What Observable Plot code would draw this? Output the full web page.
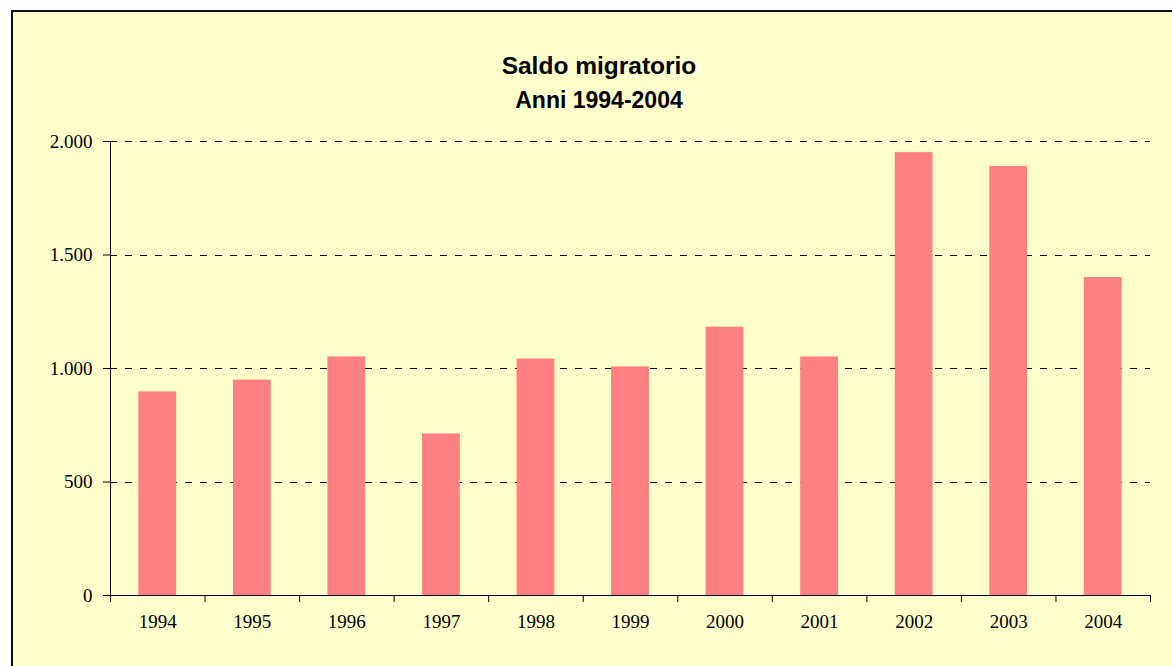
<!DOCTYPE html>
<html>
<head>
<meta charset="utf-8">
<script src="https://cdn.jsdelivr.net/npm/d3@7"></script>
<script src="https://cdn.jsdelivr.net/npm/@observablehq/plot@0.6"></script>
<style>
  html, body { margin: 0; padding: 0; background: #ffffff; overflow: hidden; width: 1172px; height: 666px; }
  #frame { position: absolute; left: 11px; top: 10px; width: 1200px; height: 700px; background: #FFFFCC; border: 2px solid #111; box-sizing: border-box; }
  .title { position: absolute; left: 0; width: 1198px; text-align: center; font-family: "Liberation Sans", Arial, sans-serif; font-weight: bold; color: #000; white-space: nowrap; }
  #chart { position: absolute; left: 0; top: 0; }
</style>
</head>
<body>
<div id="frame"></div>
<div class="title" id="t1" style="top:52px; font-size:24.5px">Saldo migratorio</div>
<div class="title" id="t2" style="top:87px; font-size:23px">Anni 1994-2004</div>
<div id="chart"></div>
<script>
// Data
const years = ["1994","1995","1996","1997","1998","1999","2000","2001","2002","2003","2004"];
const saldo = [897, 949, 1051, 712, 1042, 1007, 1182, 1051, 1951, 1890, 1401];
const yTicks = [0, 500, 1000, 1500, 2000];

const data = years.map((y, i) => ({year: y, value: saldo[i]}));

const W = 1172, H = 666;
const mL = 110, mR = 22, mT = 141, mB = 71;
const halfStep = (W - mL - mR) / years.length / 2;

const it = d3.formatLocale({decimal: ",", thousands: ".", grouping: [3], currency: ["", " €"]});
const fmt = it.format(",");

const serif = "'Liberation Serif', 'Times New Roman', serif";

const chart = Plot.plot({
  width: W,
  height: H,
  marginLeft: mL,
  marginRight: mR,
  marginTop: mT,
  marginBottom: mB,
  style: {background: "transparent", fontFamily: serif, fontSize: "19px", color: "#000"},
  x: {domain: years, paddingInner: 0.6, paddingOuter: 0.3, round: false, label: null},
  y: {domain: [0, 2000], label: null},
  marks: [
    Plot.gridY(yTicks.filter(d => d > 0), {stroke: "#000", strokeOpacity: 1, strokeDasharray: "7,8", strokeWidth: 1, shapeRendering: "crispEdges"}),
    Plot.barY(data, {x: "year", y: "value", fill: "#FF8080"}),
    Plot.axisY(yTicks, {tickSize: 7, tickPadding: 11, tickFormat: fmt, label: null, stroke: "#000", fill: "#000", fontSize: 19, fontFamily: serif}),
    Plot.axisX({tickSize: 0, tickPadding: 19, label: null, fill: "#000", fontSize: 19, fontFamily: serif}),
    Plot.frame({anchor: "left", stroke: "#000"}),
    Plot.ruleY([0], {stroke: "#000"}),
    Plot.ruleX(years, {x: d => d, dx: -halfStep, y1: 0, y2: 0, insetBottom: -7, stroke: "#000"}),
    Plot.ruleX([years[years.length - 1]], {x: d => d, dx: halfStep, y1: 0, y2: 0, insetBottom: -7, stroke: "#000"})
  ]
});
document.getElementById("chart").appendChild(chart);
</script>
</body>
</html>
